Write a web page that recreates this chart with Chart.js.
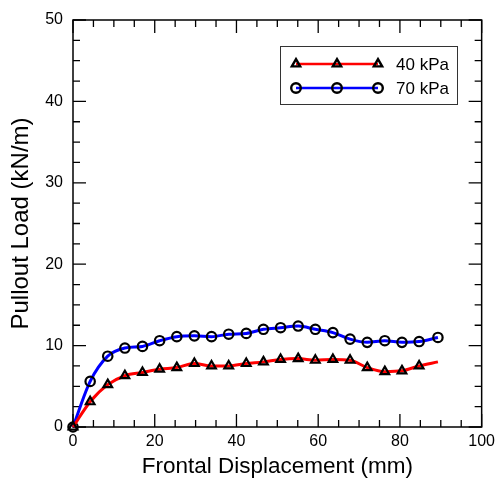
<!DOCTYPE html>
<html>
<head>
<meta charset="utf-8">
<script src="https://cdn.jsdelivr.net/npm/chart.js@4/dist/chart.umd.min.js"></script>
<style>
html,body{margin:0;padding:0;background:#fff;}
canvas{display:block;}
</style>
</head>
<body>
<canvas id="c" width="500" height="483"></canvas>
<script>
// Frontal displacement (mm) at recorded points
const displacement = [0, 4.2, 8.5, 12.7, 17.0, 21.2, 25.4, 29.7, 33.9, 38.1, 42.4, 46.6, 50.8, 55.1, 59.3, 63.6, 67.8, 72.0, 76.3, 80.5, 84.7, 89.3];
// Pullout load (kN/m)
const load40kPa = [0, 3.1, 5.2, 6.3, 6.7, 7.1, 7.3, 7.8, 7.5, 7.5, 7.8, 8.0, 8.3, 8.4, 8.2, 8.3, 8.2, 7.3, 6.8, 6.9, 7.5, 8.0];
const load70kPa = [0, 5.6, 8.7, 9.7, 9.9, 10.6, 11.1, 11.2, 11.1, 11.4, 11.5, 12.0, 12.2, 12.4, 12.0, 11.6, 10.8, 10.4, 10.6, 10.4, 10.5, 11.0];
// marker shown on every point except the last point of the 40 kPa series
const marker40 = [1,1,1,1,1,1,1,1,1,1,1,1,1,1,1,1,1,1,1,1,1,0];
const seriesLabels = ['40 kPa', '70 kPa'];
const xTickValues = [0, 20, 40, 60, 80, 100];
const yTickValues = [0, 10, 20, 30, 40, 50];

const FONT = "'Liberation Sans', Arial, Helvetica, sans-serif";

const frameTicks = {
  id: 'frameTicks',
  beforeDatasetsDraw(chart) {
    const {ctx, chartArea: a, scales: {x, y}} = chart;
    ctx.save();
    ctx.strokeStyle = '#000';
    ctx.lineWidth = 1.3;
    ctx.beginPath();
    for (let v = 0; v <= 100; v += 5) {
      const px = x.getPixelForValue(v);
      const len = (v % 20 === 0) ? 13 : 7;
      ctx.moveTo(px, a.bottom); ctx.lineTo(px, a.bottom - len);
      ctx.moveTo(px, a.top); ctx.lineTo(px, a.top + len);
    }
    for (let v = 0; v <= 50; v += 2.5) {
      const py = y.getPixelForValue(v);
      const len = (v % 10 === 0) ? 13 : 7;
      ctx.moveTo(a.left, py); ctx.lineTo(a.left + len, py);
      ctx.moveTo(a.right, py); ctx.lineTo(a.right - len, py);
    }
    ctx.stroke();
    ctx.lineWidth = 1.5;
    ctx.strokeRect(a.left, a.top, a.right - a.left, a.bottom - a.top);
    ctx.restore();
  }
};

const customLegend = {
  id: 'customLegend',
  afterDraw(chart) {
    const {ctx} = chart;
    ctx.save();
    ctx.strokeStyle = '#333';
    ctx.lineWidth = 1;
    ctx.strokeRect(280.5, 46.5, 177, 58);
    chart.data.datasets.forEach((ds, i) => {
      const yy = 64 + i * 24;
      ctx.strokeStyle = ds.borderColor;
      ctx.lineWidth = 2.5;
      ctx.beginPath(); ctx.moveTo(296, yy); ctx.lineTo(378, yy); ctx.stroke();
      [296, 337, 378].forEach(mx => {
        ctx.fillStyle = 'rgba(0,0,0,0)';
        ctx.strokeStyle = '#000';
        ctx.lineWidth = 2.4;
        Chart.helpers.drawPoint(ctx, {
          pointStyle: ds.pointStyle, radius: 4.8, borderWidth: 2.4, rotation: 0
        }, mx, yy);
      });
      ctx.fillStyle = '#000';
      ctx.font = "17px " + FONT;
      ctx.textBaseline = 'middle';
      ctx.textAlign = 'left';
      ctx.fillText(seriesLabels[i], 396, yy + 1);
    });
    ctx.restore();
  }
};

new Chart(document.getElementById('c'), {
  type: 'line',
  data: {
    datasets: [
      {
        label: seriesLabels[0],
        data: displacement.map((d, i) => ({x: d, y: load40kPa[i]})),
        borderColor: '#ff0000',
        borderWidth: 3,
        pointStyle: 'triangle',
        pointRadius: marker40.map(m => m ? 5 : 0),
        pointBorderColor: '#000',
        pointBackgroundColor: 'rgba(0,0,0,0)',
        pointBorderWidth: 2.2,
        tension: 0.4,
        cubicInterpolationMode: 'monotone',
        clip: false
      },
      {
        label: seriesLabels[1],
        data: displacement.map((d, i) => ({x: d, y: load70kPa[i]})),
        borderColor: '#0000ff',
        borderWidth: 3,
        pointStyle: 'circle',
        pointRadius: 4.7,
        pointBorderColor: '#000',
        pointBackgroundColor: 'rgba(0,0,0,0)',
        pointBorderWidth: 2.2,
        tension: 0.4,
        cubicInterpolationMode: 'monotone',
        clip: false
      }
    ]
  },
  options: {
    responsive: false,
    animation: false,
    devicePixelRatio: 1,
    layout: {padding: {left: 0, top: 20, right: 15, bottom: 0}},
    plugins: {legend: {display: false}, tooltip: {enabled: false}},
    scales: {
      x: {
        type: 'linear', min: 0, max: 100,
        afterBuildTicks: s => { s.ticks = xTickValues.map(v => ({value: v})); },
        afterFit: s => { s.height = 56; },
        grid: {display: false, drawTicks: false},
        border: {display: false},
        ticks: {color: '#000', font: {family: FONT, size: 16}, padding: 5, maxRotation: 0},
        title: {display: true, text: 'Frontal Displacement (mm)', color: '#000',
                font: {family: FONT, size: 22.5}, padding: {top: 0, bottom: 3}}
      },
      y: {
        type: 'linear', min: 0, max: 50,
        afterBuildTicks: s => { s.ticks = yTickValues.map(v => ({value: v})); },
        afterFit: s => { s.width = 73; },
        grid: {display: false, drawTicks: false},
        border: {display: false},
        ticks: {color: '#000', font: {family: FONT, size: 16}, padding: 10},
        title: {display: true, text: 'Pullout Load (kN/m)', color: '#000',
                font: {family: FONT, size: 24}, padding: {top: 7, bottom: 0}}
      }
    }
  },
  plugins: [frameTicks, customLegend]
});
</script>
</body>
</html>
